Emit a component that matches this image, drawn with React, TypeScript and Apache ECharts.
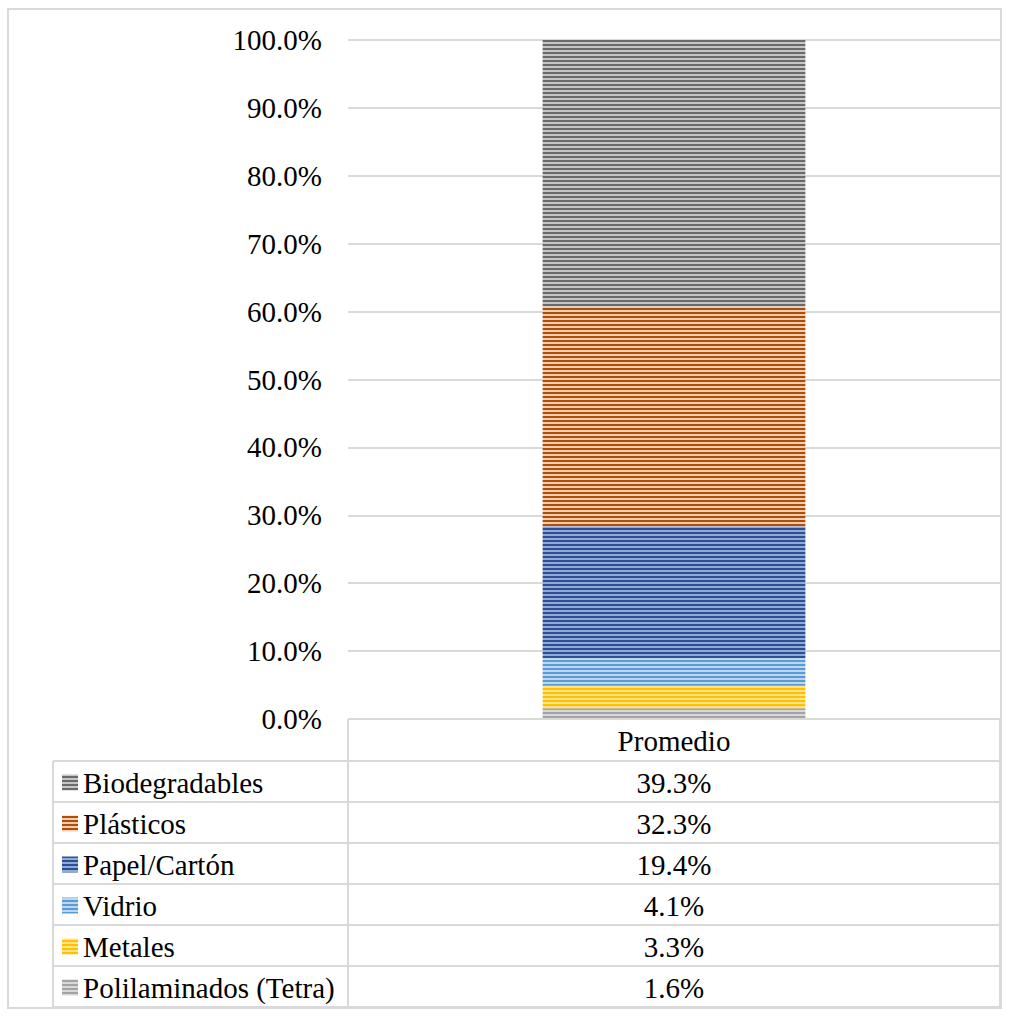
import React, { useEffect, useRef } from "react";
import * as echarts from "echarts";

// Waste composition (average), stacked from bottom to top
const categories = ["Promedio"];
const seriesNames = [
  "Polilaminados (Tetra)",
  "Metales",
  "Vidrio",
  "Papel/Cartón",
  "Plásticos",
  "Biodegradables",
];
const seriesValues = [1.6, 3.3, 4.1, 19.4, 32.3, 39.3];
const stripeDark = ["#a3a3a3", "#ffc000", "#5b9bd5", "#2f4f8f", "#a9500f", "#6a6a6a"];
const stripeLight = ["#d8d8d8", "#ffe38c", "#bdd7ee", "#8faadc", "#f8cbad", "#c6c6c6"];
const yMin = 0;
const yMax = 100;
const yStep = 10;

const FONT = "Liberation Serif";
const FONT_SIZE = 29;
const BORDER = "#d9d9d9";

// Narrow horizontal stripe fill: 2px dark band over 2px light band
function stripes(dark: string, light: string) {
  const c = document.createElement("canvas");
  c.width = 4;
  c.height = 4;
  const ctx = c.getContext("2d")!;
  ctx.fillStyle = light;
  ctx.fillRect(0, 0, 4, 4);
  ctx.fillStyle = dark;
  ctx.fillRect(0, 0, 4, 2);
  return { image: c, repeat: "repeat", imageWidth: 4, imageHeight: 4 } as any;
}

export default function App() {
  const ref = useRef<HTMLDivElement>(null);

  useEffect(() => {
    if (!ref.current) return;
    const chart = echarts.init(ref.current, null, { renderer: "svg" });

    const plotLeft = 348;
    const plotRight = 1000;
    const plotTop = 40;
    const plotBottom = 719;
    const tableLeft = 53;
    const headerBottom = 761;
    const rowH = 41;

    const patterns = seriesNames.map((_, i) => stripes(stripeDark[i], stripeLight[i]));

    const textStyle = (text: string, align: string) => ({
      text,
      fontFamily: FONT,
      fontSize: FONT_SIZE,
      fill: "#000",
      align,
      verticalAlign: "middle",
    });

    // data table beneath the plot
    const graphics: any[] = [];
    const rowsTopDown = seriesNames.map((_, i) => i).reverse();
    const tableBottom = headerBottom + rowH * rowsTopDown.length;

    graphics.push({
      type: "rect",
      shape: { x: 8, y: 9, width: 993, height: 999 },
      style: { fill: "none", stroke: BORDER, lineWidth: 2 },
      silent: true,
    });

    const hLine = (x1: number, x2: number, y: number) =>
      graphics.push({
        type: "line",
        shape: { x1, y1: y, x2, y2: y },
        style: { stroke: BORDER, lineWidth: 2 },
        silent: true,
      });
    const vLine = (x: number, y1: number, y2: number) =>
      graphics.push({
        type: "line",
        shape: { x1: x, y1, x2: x, y2 },
        style: { stroke: BORDER, lineWidth: 2 },
        silent: true,
      });

    hLine(plotLeft, plotRight, plotBottom);
    hLine(tableLeft, plotRight, headerBottom);
    rowsTopDown.forEach((_, r) => hLine(tableLeft, plotRight, headerBottom + rowH * (r + 1)));
    vLine(tableLeft, headerBottom, tableBottom);
    vLine(plotLeft, plotBottom, tableBottom);
    vLine(plotRight, plotBottom, tableBottom);

    const colCenter = (plotLeft + plotRight) / 2;
    graphics.push({
      type: "text",
      x: colCenter,
      y: (plotBottom + headerBottom) / 2 + 1,
      style: textStyle(categories[0], "center"),
    });

    rowsTopDown.forEach((si, r) => {
      const cy = headerBottom + rowH * r + rowH / 2 + 1;
      graphics.push({
        type: "rect",
        shape: { x: 62, y: cy - 8, width: 16, height: 16 },
        style: { fill: patterns[si] },
        silent: true,
      });
      graphics.push({
        type: "text",
        x: 83,
        y: cy,
        style: textStyle(seriesNames[si], "left"),
      });
      graphics.push({
        type: "text",
        x: colCenter,
        y: cy,
        style: textStyle(seriesValues[si].toFixed(1) + "%", "center"),
      });
    });

    chart.setOption({
      animation: false,
      backgroundColor: "#ffffff",
      grid: {
        left: plotLeft,
        right: 1018 - plotRight,
        top: plotTop,
        bottom: 1016 - plotBottom,
        containLabel: false,
      },
      xAxis: {
        type: "category",
        data: categories,
        axisLine: { show: false },
        axisTick: { show: false },
        axisLabel: { show: false },
      },
      yAxis: {
        type: "value",
        min: yMin,
        max: yMax,
        interval: yStep,
        axisLine: { show: false },
        axisTick: { show: false },
        axisLabel: {
          formatter: (v: number) => v.toFixed(1) + "%",
          fontFamily: FONT,
          fontSize: FONT_SIZE,
          color: "#000",
          margin: 26,
        },
        splitLine: { lineStyle: { color: BORDER, width: 2 } },
      },
      series: seriesNames.map((name, i) => ({
        name,
        type: "bar",
        stack: "total",
        barWidth: "40.3%",
        data: [seriesValues[i]],
        itemStyle: { color: patterns[i] },
      })),
      graphic: graphics,
    });

    return () => chart.dispose();
  }, []);

  return (
    <div
      ref={ref}
      style={{ position: "fixed", left: 0, top: 0, width: 1018, height: 1016 }}
    />
  );
}
